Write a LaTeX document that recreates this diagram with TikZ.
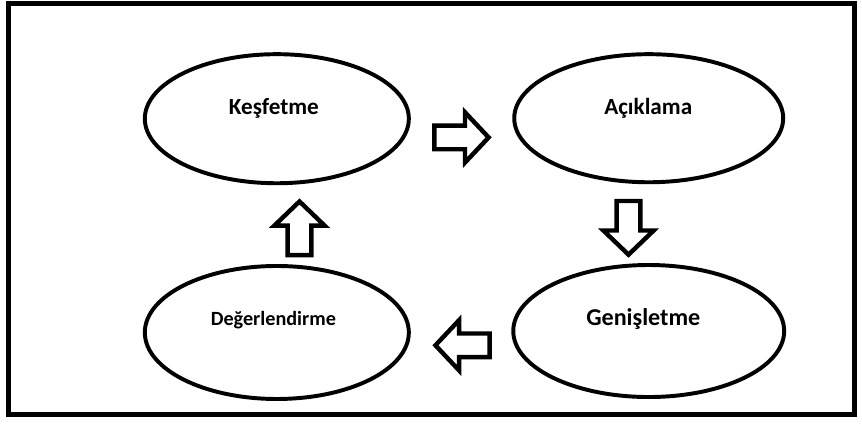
\documentclass[tikz,border=0pt]{standalone}
\usepackage{fontspec}
\setmainfont{Carlito}
\usetikzlibrary{shapes.geometric}
\begin{document}
\begin{tikzpicture}[x=1pt,y=-1pt,
  ell/.style={draw=black, line width=4pt, ellipse, inner sep=0pt, fill=white},
  lbl/.style={font=\bfseries\fontsize{#1}{#1}\selectfont, inner sep=0pt, anchor=base},
  blockarrow/.style={draw=black, line width=4.5pt, miter limit=4, line join=miter},
  frame/.style={draw=black, line width=5pt}]
\useasboundingbox (0,0) rectangle (875,429.4);
% frame
\draw[frame] (9,4) rectangle (867,421);
% ellipses
\node[ell, minimum width=268pt, minimum height=131pt] (k) at (281,120.5) {};
\node[ell, minimum width=273pt, minimum height=130pt] (a) at (658.5,120) {};
\node[ell, minimum width=268pt, minimum height=135pt] (d) at (281,337.5) {};
\node[ell, minimum width=275pt, minimum height=134pt] (g) at (658.5,336) {};
% labels
\node[lbl=23.5] (kt) at (278,116) {Keşfetme};
\node[lbl=23.5] (at) at (658,116) {Açıklama};
\node[lbl=20.5] (dt) at (277.5,330) {Değerlendirme};
\node[lbl=24.5] (gt) at (653,330) {Genişletme};
% block arrows
% right: Keşfetme -> Açıklama
\draw[blockarrow] (441,127.5) -- (472,127.5) -- (472,114) -- (496,139.5) -- (472,165) -- (472,151.5) -- (441,151.5) -- cycle;
% down: Açıklama -> Genişletme
\draw[blockarrow] (626,204) -- (626,234) -- (612.5,234) -- (638,258.5) -- (663.5,234) -- (650,234) -- (650,204) -- cycle;
% left: Genişletme -> Değerlendirme
\draw[blockarrow] (497,338.5) -- (466,338.5) -- (466,325) -- (442,350.5) -- (466,376) -- (466,362.5) -- (497,362.5) -- cycle;
% up: Değerlendirme -> Keşfetme
\draw[blockarrow] (292,259) -- (292,229) -- (278.5,229) -- (304,204.5) -- (329.5,229) -- (316,229) -- (316,259) -- cycle;
\end{tikzpicture}
\end{document}
